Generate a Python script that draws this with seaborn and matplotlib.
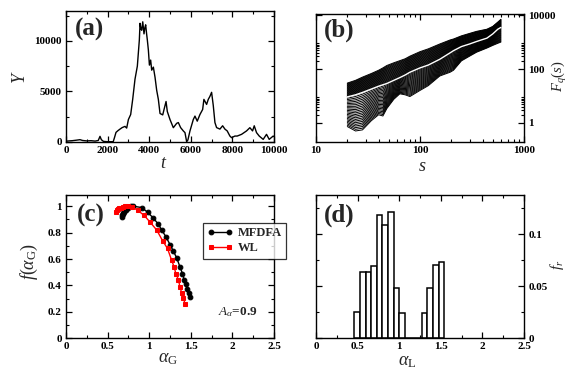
import numpy as np
import pandas as pd
import matplotlib
matplotlib.use("Agg")
import matplotlib.pyplot as plt
import seaborn as sns
from matplotlib.ticker import FixedLocator, FixedFormatter, MultipleLocator, FuncFormatter

# ---------------- data ----------------
# (a) integrated series Y(t)
t_a = [0, 150, 300, 500, 673, 800, 1000, 1200, 1400, 1550, 1635, 1700, 1800, 2000, 2270, 2330, 2404,
       2500, 2596, 2700, 2837, 2917, 3000, 3110, 3206, 3317, 3430, 3526, 3560, 3600, 3640, 3690, 3750,
       3790, 3830, 3870, 3910, 3960, 4010, 4070, 4120, 4200, 4280, 4360, 4440, 4520, 4650, 4710, 4810,
       4870, 5000, 5160, 5320, 5400, 5510, 5640, 5720, 5800, 5860, 5960, 6120, 6200, 6310, 6440, 6570,
       6630, 6760, 6840, 6920, 7000, 7080, 7160, 7240, 7400, 7530, 7640, 7750, 7880, 7960, 8120, 8230,
       8440, 8680, 8840, 8970, 9050, 9160, 9290, 9480, 9640, 9770, 9960, 10000]
Y_a = [50, 80, 100, 150, 200, 120, 80, 100, 60, 120, 530, 200, 30, 0, 0, 400, 925, 1100, 1250, 1400,
       1520, 1350, 2200, 2700, 4200, 6200, 7500, 10100, 11750, 11200, 11060, 11900, 10700, 11300, 11600,
       10800, 10100, 9100, 7600, 8100, 7100, 7400, 6400, 5100, 4200, 2800, 2660, 3170, 3990, 3000, 2200,
       1390, 1820, 1900, 1400, 1070, 900, 0, 170, 1070, 2200, 2540, 2040, 2700, 3200, 4200, 3700, 4200,
       4500, 4900, 3600, 1900, 1400, 1250, 1580, 1250, 1070, 560, 400, 560, 560, 730, 1070, 1390, 1070,
       1580, 900, 560, 230, 730, 230, 560, 500]

# (b) fluctuation functions: upper envelope, q = 0 curve, lower envelope
s_b = [20, 24, 28, 34, 40, 44, 48, 56, 64, 72, 80, 100, 120, 155, 195, 210, 250, 300, 350, 440, 500, 560, 600]
F_top = [30, 38, 50, 68, 90, 110, 135, 170, 204, 240, 300, 440, 560, 850, 1200, 1300, 1700, 2100, 2500,
         3000, 3800, 5500, 7000]
F_mid = [9.2, 11, 13.5, 18, 23, 26, 29, 38, 48, 60, 76, 110, 140, 230, 400, 480, 680, 850, 1050, 1400,
         2000, 3000, 3500]
F_low = [0.73, 0.5, 0.55, 1.2, 2.0, 1.8, 3.4, 7.5, 12, 11, 9.5, 16, 24, 55, 76, 90, 200, 300, 420, 600,
         750, 900, 1000]
n_upper, n_lower = 22, 22

# (c) singularity spectra
aG_mfdfa = [0.67, 0.675, 0.68, 0.69, 0.70, 0.72, 0.75, 0.78, 0.81, 0.91, 0.98, 1.05, 1.11, 1.15, 1.20,
            1.25, 1.29, 1.33, 1.37, 1.40, 1.42, 1.44, 1.46, 1.475, 1.49]
f_mfdfa = [0.92, 0.93, 0.94, 0.95, 0.96, 0.975, 0.99, 1.0, 1.0, 0.99, 0.955, 0.91, 0.864, 0.82, 0.77,
           0.71, 0.66, 0.61, 0.54, 0.49, 0.445, 0.41, 0.37, 0.34, 0.31]
aG_wl = [0.60, 0.61, 0.62, 0.64, 0.66, 0.68, 0.71, 0.74, 0.79, 0.86, 0.94, 1.01, 1.09, 1.16, 1.22, 1.27,
         1.30, 1.32, 1.35, 1.37, 1.39, 1.41, 1.43]
f_wl = [0.96, 0.97, 0.98, 0.985, 0.99, 0.995, 1.0, 1.0, 0.995, 0.97, 0.93, 0.88, 0.82, 0.74, 0.68, 0.59,
        0.54, 0.49, 0.445, 0.39, 0.343, 0.305, 0.263]

# (d) relative frequency of local exponents
aL_edges = [0.46, 0.5275, 0.595, 0.6625, 0.73, 0.7975, 0.865, 0.9325, 1.0, 1.0675, 1.135, 1.2025,
            1.27, 1.3375, 1.405, 1.4725, 1.54]
fr = [0.025, 0.064, 0.064, 0.069, 0.118, 0.109, 0.1215, 0.0485, 0.024, 0, 0, 0,
      0.024, 0.0485, 0.0707, 0.073]

# ---------------- style ----------------
sns.set_theme(style="ticks")
plt.rcParams.update({
    "font.family": ["Liberation Serif", "DejaVu Serif"],
    "mathtext.fontset": "custom",
    "mathtext.rm": "Liberation Serif",
    "mathtext.it": "Liberation Serif:italic",
    "mathtext.bf": "Liberation Serif:bold",
    "axes.linewidth": 1.0,
    "axes.edgecolor": "black",
    "xtick.direction": "in",
    "ytick.direction": "in",
    "xtick.major.size": 4.5,
    "ytick.major.size": 4.5,
    "xtick.minor.size": 2.5,
    "ytick.minor.size": 2.5,
    "xtick.major.width": 0.9,
    "ytick.major.width": 0.9,
    "xtick.minor.width": 0.8,
    "ytick.minor.width": 0.8,
    "xtick.color": "black",
    "ytick.color": "black",
})

TICK_FS = 8
LAB_FS = 13
PAN_FS = 18

fig = plt.figure(figsize=(5.82, 3.76), dpi=100)
W, H = 582.0, 376.0


def box(l, t, r, b):
    return [l / W, 1 - b / H, (r - l) / W, (b - t) / H]


ax_a = fig.add_axes(box(66, 10.7, 274, 141.7))
ax_b = fig.add_axes(box(316, 13.5, 524, 141.7))
ax_c = fig.add_axes(box(66, 195, 274, 338.3))
ax_d = fig.add_axes(box(316, 195, 524, 338.3))

gfmt = FuncFormatter(lambda v, p: "%g" % v)


def frame(ax):
    ax.tick_params(which="both", top=True, right=True, bottom=True, left=True)
    ax.tick_params(which="major", labelsize=TICK_FS, pad=3)
    for lab in ax.get_xticklabels() + ax.get_yticklabels():
        lab.set_fontweight("bold")
    for sp in ax.spines.values():
        sp.set_visible(True)
        sp.set_color("black")


def panel(ax, txt, x, y):
    ax.text(x, y, txt, transform=ax.transAxes, fontsize=PAN_FS, fontweight="bold",
            ha="left", va="top")


# ---------------- (a) ----------------
df_a = pd.DataFrame({"t": t_a, "Y": Y_a})
sns.lineplot(data=df_a, x="t", y="Y", ax=ax_a, color="black", lw=1.0, sort=False, estimator=None)
ax_a.set_xlim(0, 10000)
ax_a.set_ylim(0, 13000)
ax_a.xaxis.set_major_locator(MultipleLocator(2000))
ax_a.xaxis.set_minor_locator(MultipleLocator(1000))
ax_a.yaxis.set_major_locator(MultipleLocator(5000))
ax_a.yaxis.set_minor_locator(MultipleLocator(2500))
ax_a.set_xlabel("$t$", fontsize=LAB_FS)
ax_a.set_ylabel("$Y$", fontsize=LAB_FS)
ax_a.xaxis.set_label_coords(0.47, -0.10)
ax_a.yaxis.set_label_coords(-0.18, 0.494)
frame(ax_a)
panel(ax_a, "(a)", 0.045, 0.945)

# ---------------- (b) ----------------
lt, lm, lb = np.log10(F_top), np.log10(F_mid), np.log10(F_low)
rows = []
for k in range(n_upper + 1):
    w = k / n_upper
    for s, v in zip(s_b, lm + w * (lt - lm)):
        rows.append(("u%d" % k, s, 10 ** v))
for k in range(1, n_lower + 1):
    w = k / n_lower
    for s, v in zip(s_b, lm + w * (lb - lm)):
        rows.append(("l%d" % k, s, 10 ** v))
df_b = pd.DataFrame(rows, columns=["q", "s", "F"])
ax_b.set_xscale("log")
ax_b.set_yscale("log")
sns.lineplot(data=df_b, x="s", y="F", hue="q", units="q", estimator=None, sort=False,
             palette=["black"] * df_b["q"].nunique(), lw=0.7, legend=False, ax=ax_b)
sns.lineplot(x=s_b, y=F_mid, color="white", lw=1.0, sort=False, estimator=None, ax=ax_b)
ax_b.set_xlim(10, 1000)
ax_b.set_ylim(0.2, 11500)
ax_b.xaxis.set_major_locator(FixedLocator([10, 100, 1000]))
ax_b.xaxis.set_major_formatter(FixedFormatter(["10", "100", "1000"]))
ax_b.xaxis.set_minor_locator(FixedLocator([k * 10 for k in range(2, 10)] + [k * 100 for k in range(2, 10)]))
ax_b.yaxis.set_major_locator(FixedLocator([1, 100, 10000]))
ax_b.yaxis.set_major_formatter(FixedFormatter(["1", "100", "10000"]))
ax_b.yaxis.set_minor_locator(FixedLocator([k for k in range(2, 10)] + [k * 100 for k in range(2, 10)]))
ax_b.xaxis.set_minor_formatter(FixedFormatter([]))
ax_b.yaxis.set_minor_formatter(FixedFormatter([]))
ax_b.tick_params(axis="y", which="both", labelleft=False, labelright=True)
ax_b.set_xlabel("$s$", fontsize=LAB_FS)
ax_b.set_ylabel("$F_q(s)$", fontsize=10.5)
ax_b.xaxis.set_label_coords(0.513, -0.13)
ax_b.yaxis.set_label_coords(1.215, 0.507)
frame(ax_b)
panel(ax_b, "(b)", 0.04, 0.962)

# ---------------- (c) ----------------
sns.lineplot(x=aG_mfdfa, y=f_mfdfa, ax=ax_c, color="black", lw=1.0, marker="o", markersize=3.4,
             markeredgecolor="black", sort=False, estimator=None, label="MFDFA")
sns.lineplot(x=aG_wl, y=f_wl, ax=ax_c, color="#ff0000", lw=1.0, marker="s", markersize=3.2,
             markeredgecolor="#ff0000", sort=False, estimator=None, label="WL")
ax_c.set_xlim(0, 2.5)
ax_c.set_ylim(0, 1.085)
ax_c.xaxis.set_major_locator(MultipleLocator(0.5))
ax_c.xaxis.set_minor_locator(MultipleLocator(0.25))
ax_c.yaxis.set_major_locator(MultipleLocator(0.2))
ax_c.yaxis.set_minor_locator(MultipleLocator(0.1))
ax_c.xaxis.set_major_formatter(gfmt)
ax_c.yaxis.set_major_formatter(gfmt)
ax_c.set_xlabel(r"$\alpha_{\rm G}$", fontsize=LAB_FS)
ax_c.set_ylabel(r"$f(\alpha_{\rm G})$", fontsize=LAB_FS)
ax_c.xaxis.set_label_coords(0.49, -0.082)
ax_c.yaxis.set_label_coords(-0.125, 0.535)
leg = ax_c.legend(loc="upper left", bbox_to_anchor=(0.659, 0.805), borderaxespad=0.0, numpoints=2,
                  handlelength=2.0, fancybox=False, frameon=True, borderpad=0.35, labelspacing=0.25,
                  handletextpad=0.4,
                  prop={"family": "Liberation Serif", "weight": "bold", "size": 9})
leg.get_frame().set_edgecolor("black")
leg.get_frame().set_linewidth(0.9)
ax_c.text(1.83, 0.2, r"$A_\alpha$=0.9", fontsize=9.5, fontweight="bold", ha="left", va="center")
frame(ax_c)
panel(ax_c, "(c)", 0.05, 0.94)

# ---------------- (d) ----------------
centers = [(a + b) / 2 for a, b in zip(aL_edges[:-1], aL_edges[1:])]
sns.histplot(x=centers, weights=fr, bins=aL_edges, ax=ax_d, stat="count", element="bars",
             fill=True, color="white", edgecolor="black", linewidth=1.1, alpha=1.0)
ax_d.set_xlim(0, 2.5)
ax_d.set_ylim(0, 0.1375)
ax_d.xaxis.set_major_locator(MultipleLocator(0.5))
ax_d.xaxis.set_minor_locator(MultipleLocator(0.25))
ax_d.yaxis.set_major_locator(MultipleLocator(0.05))
ax_d.yaxis.set_minor_locator(MultipleLocator(0.025))
ax_d.xaxis.set_major_formatter(gfmt)
ax_d.yaxis.set_major_formatter(gfmt)
ax_d.tick_params(axis="y", which="both", labelleft=False, labelright=True)
ax_d.set_xlabel(r"$\alpha_{\rm L}$", fontsize=LAB_FS)
ax_d.set_ylabel(r"$f_r$", fontsize=11)
ax_d.xaxis.set_label_coords(0.436, -0.10)
ax_d.yaxis.set_label_coords(1.20, 0.51)
frame(ax_d)
panel(ax_d, "(d)", 0.04, 0.94)

fig.savefig("out.png", dpi=100)
